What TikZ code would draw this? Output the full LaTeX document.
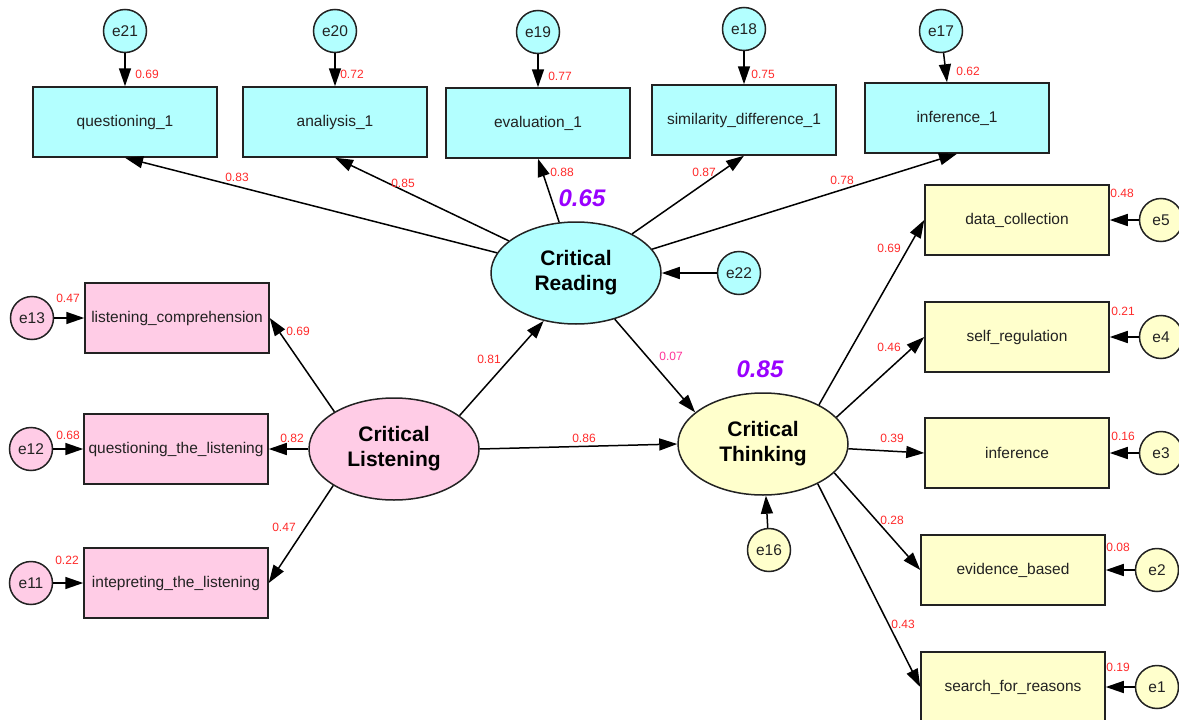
\documentclass[tikz,border=0pt]{standalone}
\usepackage{fontspec}
\setmainfont{Liberation Sans}
\usepackage{xcolor}
\usetikzlibrary{positioning,shapes.geometric,arrows.meta}
\definecolor{cyanfill}{HTML}{B3FFFF}
\definecolor{pinkfill}{HTML}{FFCCE6}
\definecolor{yelfill}{HTML}{FFFFCC}
\definecolor{edge}{HTML}{222222}
\definecolor{wred}{HTML}{FF2A2A}
\definecolor{wpink}{HTML}{FF3399}
\definecolor{rsq}{HTML}{9900FF}
\tikzset{
  obs/.style={rectangle,draw=edge,line width=1.5pt,minimum width=184pt,
    minimum height=70pt,inner sep=1pt,font=\fontsize{15.5}{18}\selectfont,text=edge},
  lat/.style={ellipse,draw=edge,line width=1.5pt,minimum width=170pt,
    minimum height=102pt,align=center,font=\fontsize{21}{25}\selectfont\bfseries},
  err/.style={circle,draw=edge,line width=1.5pt,minimum size=43pt,inner sep=0pt,
    font=\fontsize{15.5}{18}\selectfont,text=edge},
  wt/.style={text=wred,font=\fontsize{12}{14}\selectfont,inner sep=1pt},
  r2/.style={text=rsq,font=\fontsize{24}{28}\selectfont\bfseries\itshape,inner sep=1pt},
  fl/.style={-{Triangle[length=18pt,width=12pt]},line width=1.5pt,draw=black},
}
\begin{document}
\begin{tikzpicture}[x=1pt,y=-1pt,node distance=30pt]
  \useasboundingbox (0,0) rectangle (1179,720);
  % latent variables
  \node[lat,fill=cyanfill] (CR) at (576,273) {Critical\\Reading};
  \node[lat,fill=pinkfill] (CL) at (394,449) {Critical\\Listening};
  \node[lat,fill=yelfill] (CT) at (763,444) {Critical\\Thinking};
  % reading indicators
  \node[obs,fill=cyanfill] (q1) at (125,122) {questioning\_1};
  \node[obs,fill=cyanfill] (an) at (335,122) {analiysis\_1};
  \node[obs,fill=cyanfill] (ev) at (538,123) {evaluation\_1};
  \node[obs,fill=cyanfill] (sd) at (744,120) {similarity\_difference\_1};
  \node[obs,fill=cyanfill] (in1) at (957,118) {inference\_1};
  % listening indicators
  \node[obs,fill=pinkfill] (lc) at (177,318) {listening\_comprehension};
  \node[obs,fill=pinkfill] (qtl) at (176,449) {questioning\_the\_listening};
  \node[obs,fill=pinkfill] (itl) at (176,583) {intepreting\_the\_listening};
  % thinking indicators
  \node[obs,fill=yelfill] (dc) at (1017,220) {data\_collection};
  \node[obs,fill=yelfill] (sr) at (1017,337) {self\_regulation};
  \node[obs,fill=yelfill] (inf) at (1017,453) {inference};
  \node[obs,fill=yelfill] (eb) at (1013,570) {evidence\_based};
  \node[obs,fill=yelfill] (sfr) at (1013,687) {search\_for\_reasons};
  % error terms
  \node[err,fill=cyanfill,above=33pt of q1] (e21) {e21};
  \node[err,fill=cyanfill,above=33pt of an] (e20) {e20};
  \node[err,fill=cyanfill,above=33pt of ev] (e19) {e19};
  \node[err,fill=cyanfill,above=33pt of sd] (e18) {e18};
  \node[err,fill=cyanfill,above=29pt of in1,xshift=-16pt] (e17) {e17};
  \node[err,fill=cyanfill,right=55pt of CR] (e22) {e22};
  \node[err,fill=pinkfill,left=of lc] (e13) {e13};
  \node[err,fill=pinkfill,left=of qtl] (e12) {e12};
  \node[err,fill=pinkfill,left=of itl] (e11) {e11};
  \node[err,fill=yelfill,right=29pt of dc] (e5) {e5};
  \node[err,fill=yelfill,right=29pt of sr] (e4) {e4};
  \node[err,fill=yelfill,right=29pt of inf] (e3) {e3};
  \node[err,fill=yelfill,right=29pt of eb] (e2) {e2};
  \node[err,fill=yelfill,right=29pt of sfr] (e1) {e1};
  \node[err,fill=yelfill,below=32pt of CT,xshift=6pt] (e16) {e16};
  % paths
  \draw[fl] (CR) -- (q1.south); \draw[fl] (CR) -- (an.south);
  \draw[fl] (CR) -- (ev.south); \draw[fl] (CR) -- (sd.south);
  \draw[fl] (CR) -- (in1.south);
  \draw[fl] (CL.148) -- (lc.east); \draw[fl] (CL) -- (qtl.east);
  \draw[fl] (CL.211) -- (itl.east);
  \draw[fl] (CL.27) -- (CR.236); \draw[fl] (CR.310) -- (CT.155);
  \draw[fl] (CL.east) -- (CT.west);
  \draw[fl] (CT.35) -- (dc.west); \draw[fl] (CT.20) -- (sr.west);
  \draw[fl] (CT) -- (inf.west); \draw[fl] (CT.338) -- (eb.west);
  \draw[fl] (CT.324) -- (sfr.west);
  \draw[fl] (e21) -- (q1); \draw[fl] (e20) -- (an); \draw[fl] (e19) -- (ev);
  \draw[fl] (e18) -- (sd); \draw[fl] (e17) -- ([xshift=-10pt]in1.north);
  \draw[fl] (e22) -- (CR); \draw[fl] (e16) -- (CT);
  \draw[fl] (e13) -- (lc); \draw[fl] (e12) -- (qtl); \draw[fl] (e11) -- (itl);
  \draw[fl] (e5) -- (dc); \draw[fl] (e4) -- (sr); \draw[fl] (e3) -- (inf);
  \draw[fl] (e2) -- (eb); \draw[fl] (e1) -- (sfr);
  % estimates
  \node[wt] (w21) at (147,74) {0.69};
  \node[wt] (w20) at (352,74) {0.72};
  \node[wt] (w19) at (560,76) {0.77};
  \node[wt] (w18) at (763,74) {0.75};
  \node[wt] (w17) at (968,71) {0.62};
  \node[wt] (wq1) at (237,177) {0.83};
  \node[wt] (wan) at (403,183) {0.85};
  \node[wt] (wev) at (562,172) {0.88};
  \node[wt] (wsd) at (704,172) {0.87};
  \node[wt] (win1) at (842,180) {0.78};
  \node[r2] (r2cr) at (582,198) {0.65};
  \node[wt] (w13) at (68,298) {0.47};
  \node[wt] (w12) at (68,435) {0.68};
  \node[wt] (w11) at (67,560) {0.22};
  \node[wt] (wlc) at (298,331) {0.69};
  \node[wt] (wqtl) at (292,438) {0.82};
  \node[wt] (witl) at (284,527) {0.47};
  \node[wt] (wclcr) at (489,359) {0.81};
  \node[wt,text=wpink] (wcrct) at (671,356) {0.07};
  \node[wt] (wclct) at (584,438) {0.86};
  \node[r2] (r2ct) at (760,369) {0.85};
  \node[wt] (wdc) at (889,248) {0.69};
  \node[wt] (wsr) at (889,347) {0.46};
  \node[wt] (winf) at (892,438) {0.39};
  \node[wt] (web) at (892,520) {0.28};
  \node[wt] (wsfr) at (903,624) {0.43};
  \node[wt] (w5) at (1122,193) {0.48};
  \node[wt] (w4) at (1123,311) {0.21};
  \node[wt] (w3) at (1123,436) {0.16};
  \node[wt] (w2) at (1118,547) {0.08};
  \node[wt] (w1) at (1118,667) {0.19};
\end{tikzpicture}
\end{document}
